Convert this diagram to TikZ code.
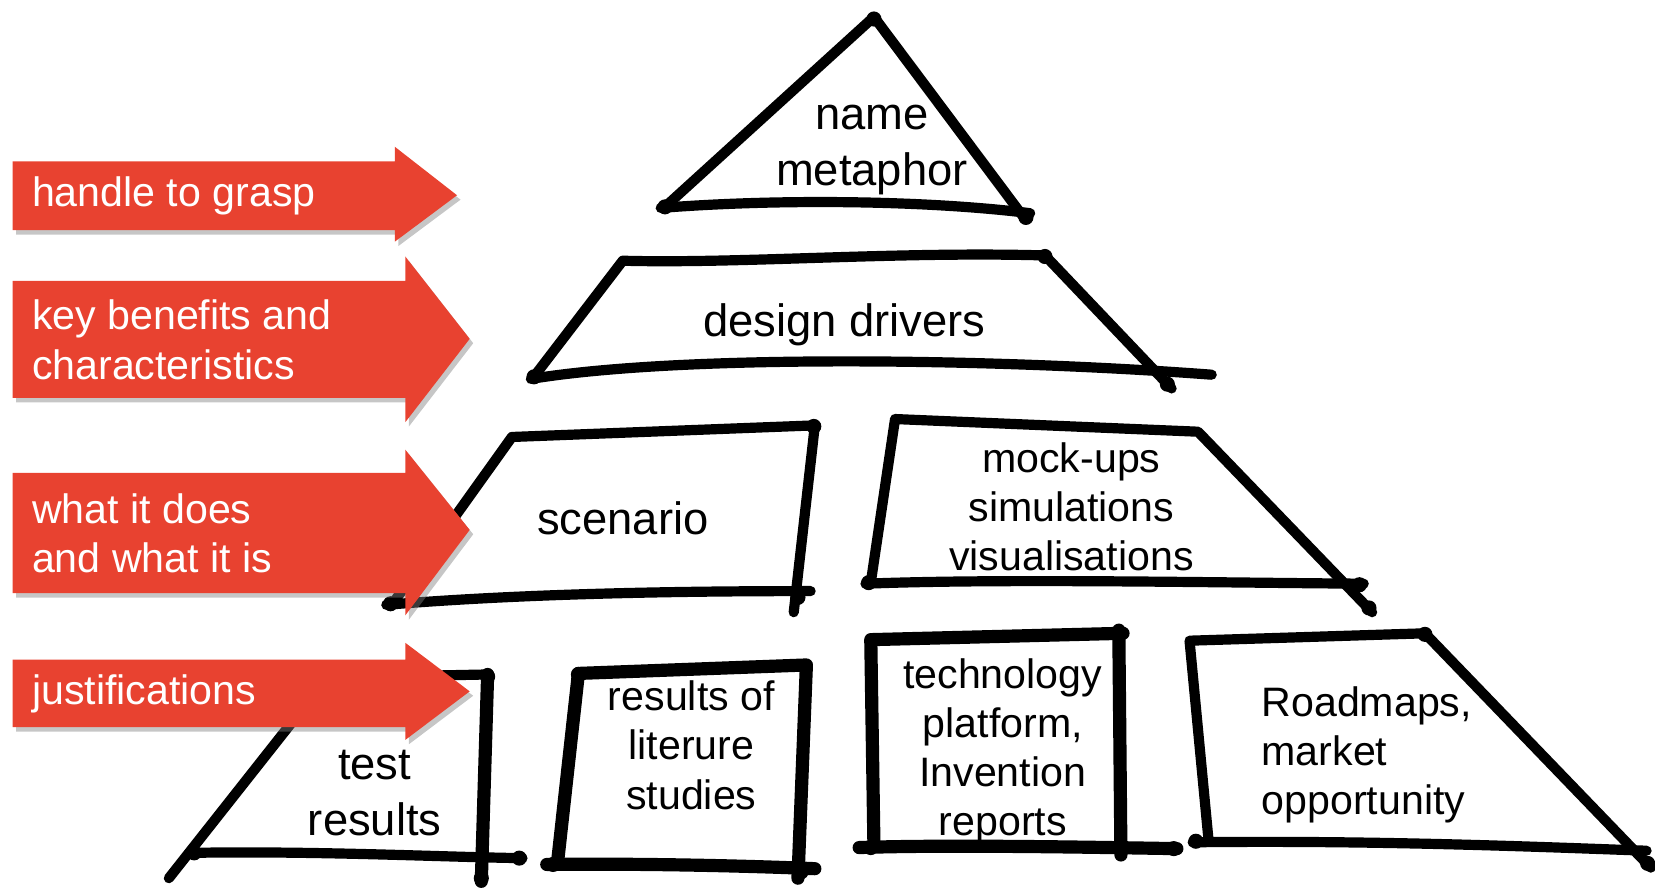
\documentclass[tikz,border=0pt]{standalone}
\usepackage{fontspec}
\setmainfont{Liberation Sans}
\usetikzlibrary{shadows}
\definecolor{tagred}{RGB}{232,66,48}

\begin{document}
\begin{tikzpicture}[x=0.0211cm, y=-0.0211cm,
    sketch/.style={line width=5.8pt, line join=round, line cap=round},
    heavy/.style={sketch, line width=7.5pt},
    redtag/.style={fill=tagred, drop shadow={shadow xshift=2pt, shadow yshift=-2.5pt, opacity=0.45}},
    tagtext/.style={anchor=west, align=left, inner sep=0pt, text=white, font=\fontsize{23.4}{28}\selectfont},
    brick/.style={align=center, inner sep=0pt, font=\fontsize{23.4}{28}\selectfont},
    bigbrick/.style={align=center, inner sep=0pt, font=\fontsize{25.8}{32}\selectfont}]
    \useasboundingbox (0,0) rectangle (1568,842);

    % Top: name / metaphor
    \draw[sketch] (630,196) -- (828,16) -- (970,206);
    \draw[sketch] (626,197) .. controls (740,188) and (880,190) .. (976,202);
    \node[bigbrick] (name) at (826,142) {name\\metaphor};

    % Design drivers
    \draw[sketch] (1110,368) -- (990,242) .. controls (850,238) and (700,250) .. (590,247) -- (505,358);
    \draw[sketch] (503,359) .. controls (650,335) and (950,340) .. (1148,355);
    \node[bigbrick] (drivers) at (800,308) {design drivers};

    % Scenario
    \draw[sketch] (372,572) -- (485,414) -- (772,403) -- (752,580);
    \draw[sketch] (366,573) .. controls (500,562) and (650,560) .. (768,560);
    \node[bigbrick] (scenario) at (590,491) {scenario};

    % Mock-ups, simulations, visualisations
    \draw[sketch] (825,552) -- (848,397) -- (1135,409) -- (1300,580);
    \draw[sketch] (820,553) .. controls (950,548) and (1150,552) .. (1292,553);
    \node[brick] (mockups) at (1015,480) {mock-ups\\simulations\\visualisations};

    % Test results
    \draw[sketch] (160,832) -- (310,642) -- (462,639);
    \draw[heavy] (462,639) -- (456,835);
    \draw[sketch] (182,808) .. controls (300,806) and (420,812) .. (495,813);
    \node[bigbrick] (test) at (355,751) {test\\results};

    % Results of literature studies
    \draw[heavy] (528,819) -- (548,638) -- (764,630) -- (756,832);
    \draw[heavy] (518,819) .. controls (600,818) and (700,820) .. (772,823);
    \node[brick] (literature) at (655,706) {results of\\literure\\studies};

    % Technology platform, invention reports
    \draw[heavy] (828,802) -- (825,606) -- (1064,600);
    \draw[heavy] (1060,597) -- (1062,810);
    \draw[heavy] (814,803) .. controls (900,800) and (1050,803) .. (1115,804);
    \node[brick] (technology) at (950,712) {technology\\platform,\\Invention\\reports};

    % Roadmaps, market opportunity
    \draw[sketch] (1145,796) -- (1127,607) -- (1350,600) -- (1564,822);
    \draw[sketch] (1130,798) .. controls (1300,796) and (1450,802) .. (1560,806);
    \node[brick, align=left, anchor=west] (roadmaps) at (1195,715) {Roadmaps,\\market\\opportunity};

    % ink blobs where the pen stopped
    \foreach \p in {(828,18),(972,206),(630,196),(990,243),(1106,364),(506,357),
                    (771,404),(370,572),(756,566),(1288,554),(1297,576),(823,552),
                    (462,641),(184,808),(492,813),(456,832),(548,639),(763,632),
                    (524,819),(759,826),(1061,600),(825,803),(1112,804),
                    (1350,601),(1133,797),(1561,818)}
        \fill \p circle (4.3pt);

    % Red tags on the left
    \fill[redtag] (12,153) -- (374,153) -- (374,139) -- (433,185) -- (374,229) -- (374,218) -- (12,218) -- cycle;
    \fill[redtag] (12,266) -- (384,266) -- (384,243) -- (445,321) -- (384,400) -- (384,377) -- (12,377) -- cycle;
    \fill[redtag] (12,448) -- (384,448) -- (384,426) -- (445,502) -- (384,583) -- (384,562) -- (12,562) -- cycle;
    \fill[redtag] (12,625) -- (384,625) -- (384,609) -- (445,655) -- (384,701) -- (384,689) -- (12,689) -- cycle;

    \node[tagtext] (grasp) at (30,186) {handle to grasp};
    \node[tagtext] (benefits) at (30,322) {key benefits and\\characteristics};
    \node[tagtext] (does) at (30,505) {what it does\\and what it is};
    \node[tagtext] (justify) at (30,657) {justifications};
\end{tikzpicture}
\end{document}
